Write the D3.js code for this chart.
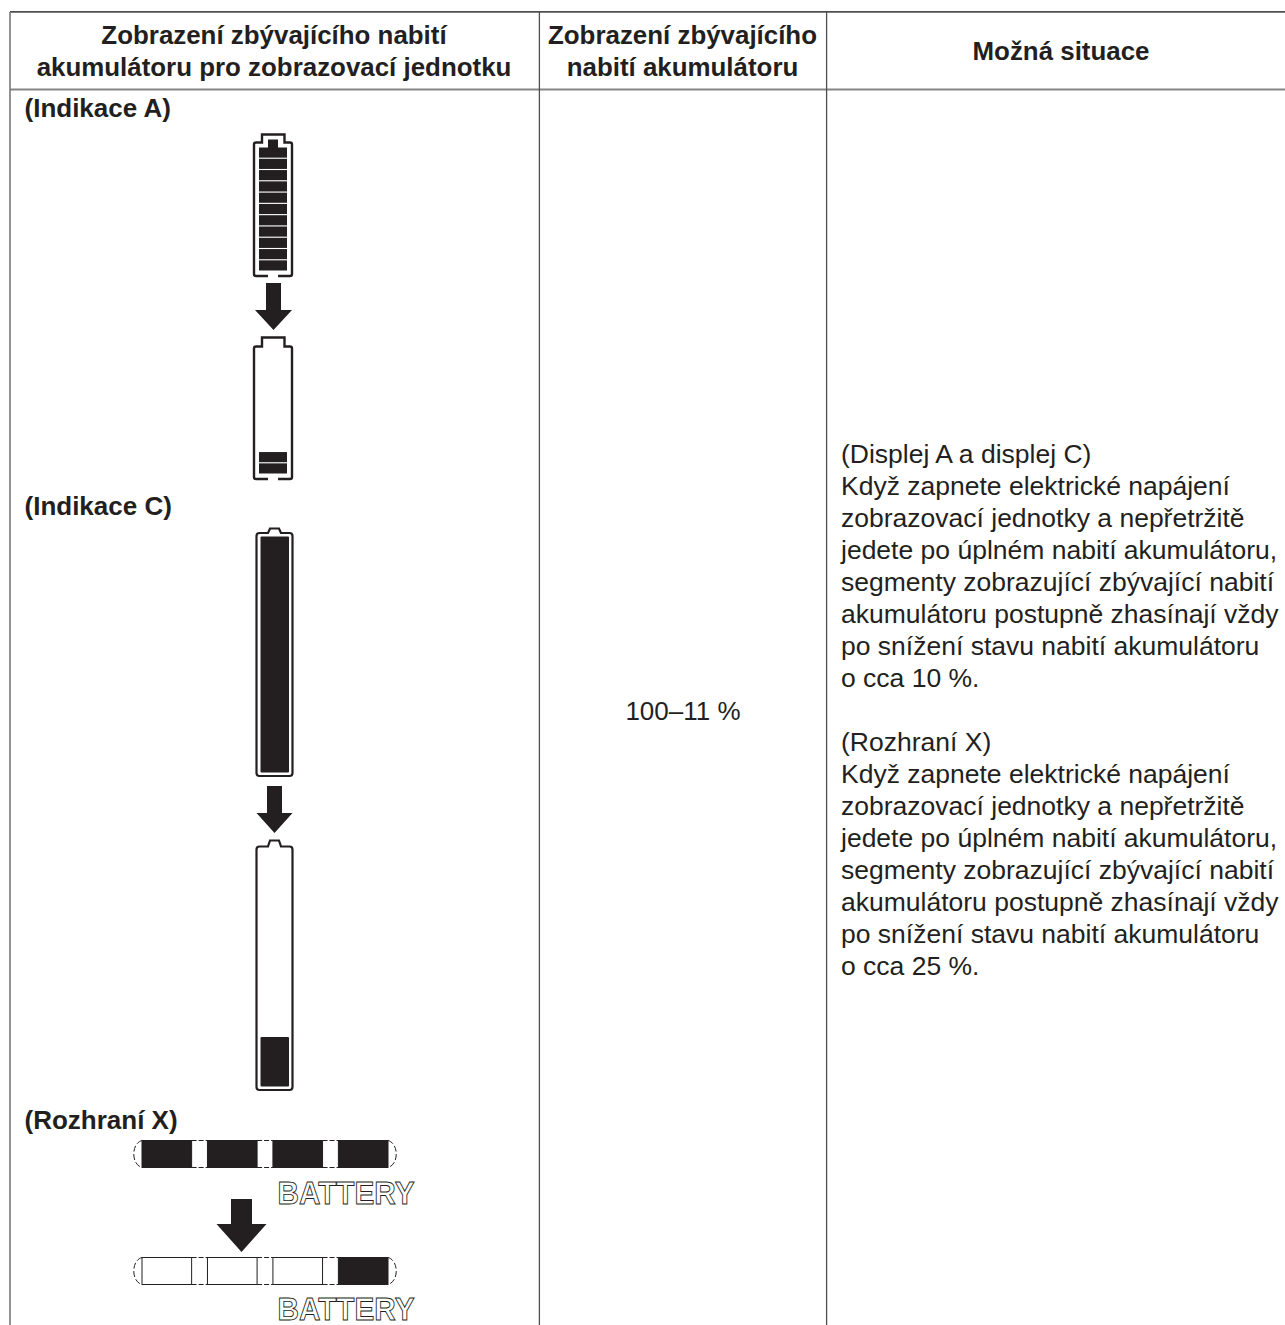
<!DOCTYPE html>
<html><head><meta charset="utf-8">
<script src="https://cdn.jsdelivr.net/npm/d3@7"></script>
<style>html,body{margin:0;padding:0;background:#fff}svg{display:block}text{font-family:"Liberation Sans",Arial,sans-serif;fill:#231f20}</style>
</head><body><div id="c"></div>
<script>
const headerCol1 = ["Zobrazení zbývajícího nabití", "akumulátoru pro zobrazovací jednotku"];
const headerCol2 = ["Zobrazení zbývajícího", "nabití akumulátoru"];
const headerCol3 = ["Možná situace"];
const sectionLabels = ["(Indikace A)", "(Indikace C)", "(Rozhraní X)"];
const chargeRange = "100–11 %";
const situationLines = [
 "(Displej A a displej C)",
 "Když zapnete elektrické napájení",
 "zobrazovací jednotky a nepřetržitě",
 "jedete po úplném nabití akumulátoru,",
 "segmenty zobrazující zbývající nabití",
 "akumulátoru postupně zhasínají vždy",
 "po snížení stavu nabití akumulátoru",
 "o cca 10 %.",
 "",
 "(Rozhraní X)",
 "Když zapnete elektrické napájení",
 "zobrazovací jednotky a nepřetržitě",
 "jedete po úplném nabití akumulátoru,",
 "segmenty zobrazující zbývající nabití",
 "akumulátoru postupně zhasínají vždy",
 "po snížení stavu nabití akumulátoru",
 "o cca 25 %."
];
const segmentsA = d3.range(11);
const litFull = [1,1,1,1,1,1,1,1,1,1,1];
const litLow  = [0,0,0,0,0,0,0,0,0,1,1];
const segmentsX = [0,1,2,3];
const litXFull = [1,1,1,1];
const litXLow  = [0,0,0,1];
const ink = "#231f20";

const svg = d3.select("#c").append("svg").attr("width",1285).attr("height",1325);

// Table rules
const rules = [
 {x1:10,y1:11.8,x2:1285,y2:11.8,c:"#4f4f4f",w:1.8},
 {x1:10,y1:89.5,x2:1285,y2:89.5,c:"#858585",w:2},
 {x1:10,y1:12,x2:10,y2:1325,c:"#777",w:1.6},
 {x1:539.4,y1:12,x2:539.4,y2:1325,c:"#4f4f4f",w:1.3},
 {x1:826.6,y1:12,x2:826.6,y2:1325,c:"#4f4f4f",w:1.3}
];
svg.append("g").selectAll("line").data(rules).join("line")
  .attr("x1",d=>d.x1).attr("y1",d=>d.y1).attr("x2",d=>d.x2).attr("y2",d=>d.y2)
  .attr("stroke",d=>d.c).attr("stroke-width",d=>d.w);

function lines(arr,x,y0,dy,size,weight,anchor){
  svg.append("g").selectAll("text").data(arr).join("text")
    .attr("x",x).attr("y",(d,i)=>y0+i*dy).attr("font-size",size)
    .attr("font-weight",weight).attr("text-anchor",anchor).text(d=>d);
}
lines(headerCol1,274,44,31.5,25.9,"bold","middle");
lines(headerCol2,682.5,44,31.5,25.9,"bold","middle");
lines(headerCol3,1061,60,32,25.9,"bold","middle");
svg.selectAll("text.s").data(sectionLabels).join("text").attr("class","s")
  .attr("x",24.5).attr("y",(d,i)=>[117,515,1129][i]).attr("font-size",26).attr("font-weight","bold").text(d=>d);
svg.append("text").attr("x",683).attr("y",720).attr("font-size",26).attr("text-anchor","middle").text(chargeRange);
lines(situationLines,841,463,32,26.5,"normal","start");

function arrow(cx,top,headTop,tip,shaftW,headW){
  const p=d3.path();
  p.moveTo(cx-shaftW/2,top);p.lineTo(cx+shaftW/2,top);p.lineTo(cx+shaftW/2,headTop);
  p.lineTo(cx+headW/2,headTop);p.lineTo(cx,tip);p.lineTo(cx-headW/2,headTop);p.lineTo(cx-shaftW/2,headTop);p.closePath();
  svg.append("path").attr("d",p.toString()).attr("fill",ink);
}

function batteryA(top,bodyTop,bottom,lit,full){
  const L=254,R=292,cL=262,cR=284.5;
  const p=d3.path();
  p.moveTo(268,bottom);p.lineTo(L+2,bottom);p.quadraticCurveTo(L,bottom,L,bottom-2);p.lineTo(L,bodyTop+2);
  p.quadraticCurveTo(L,bodyTop,L+2,bodyTop);p.lineTo(cL,bodyTop);p.lineTo(cL,top);p.lineTo(cR,top);p.lineTo(cR,bodyTop);
  p.lineTo(R-2,bodyTop);p.quadraticCurveTo(R,bodyTop,R,bodyTop+2);p.lineTo(R,bottom-2);p.quadraticCurveTo(R,bottom,R-2,bottom);p.lineTo(278,bottom);
  svg.append("path").attr("d",p.toString()).attr("fill","none").attr("stroke",ink).attr("stroke-width",2.4);
  const y=d3.scaleBand().domain(segmentsA).range([bottom-128.5,bottom-5.5]).paddingInner(0.1).paddingOuter(0);
  svg.append("g").selectAll("rect").data(segmentsA.filter(i=>lit[i])).join("rect")
    .attr("x",259).attr("width",28).attr("y",d=>y(d)).attr("height",y.bandwidth()).attr("fill",ink);
  if(full) svg.append("rect").attr("x",268).attr("width",10).attr("y",top+5).attr("height",10).attr("fill",ink);
}
batteryA(134.5,142.5,276,litFull,true);
arrow(273.5,283,310,330,15,37);
batteryA(337.5,346.5,479,litLow,false);

function batteryC(top,bodyTop,bottom,fillTop){
  const L=256.5,R=292.5,cL=268,cR=281;
  const p=d3.path();
  p.moveTo(L+3,bottom);p.quadraticCurveTo(L,bottom,L,bottom-3);p.lineTo(L,bodyTop+3);p.quadraticCurveTo(L,bodyTop,L+3,bodyTop);
  p.lineTo(cL,bodyTop);p.lineTo(cL+2,top);p.lineTo(cR-2,top);p.lineTo(cR,bodyTop);p.lineTo(R-3,bodyTop);
  p.quadraticCurveTo(R,bodyTop,R,bodyTop+3);p.lineTo(R,bottom-3);p.quadraticCurveTo(R,bottom,R-3,bottom);p.closePath();
  svg.append("path").attr("d",p.toString()).attr("fill","none").attr("stroke",ink).attr("stroke-width",2.2);
  svg.append("rect").attr("x",260.5).attr("width",28.5).attr("y",fillTop).attr("height",bottom-3.5-fillTop).attr("fill",ink).attr("rx",1);
}
batteryC(528.5,533,776,536.5);
arrow(274.5,786,813,833,15,36);
batteryC(840.5,846.5,1090,1037);

const xX=d3.scaleBand().domain(segmentsX).range([142,388]).paddingInner(0.242).paddingOuter(0);
function barX(top,h,lit){
  const bot=top+h;
  const g=svg.append("g");
  segmentsX.slice(0,-1).forEach(i=>{
    const a=xX(i)+xX.bandwidth(),b=xX(i+1);
    [top,bot].forEach(y=>g.append("line").attr("x1",a).attr("x2",b).attr("y1",y).attr("y2",y)
      .attr("stroke",ink).attr("stroke-width",1).attr("stroke-dasharray","5 2"));
  });
  g.selectAll("rect").data(segmentsX).join("rect").attr("x",d=>xX(d)).attr("y",top)
    .attr("width",xX.bandwidth()).attr("height",h)
    .attr("fill",d=>lit[d]?ink:"#fff").attr("stroke",ink).attr("stroke-width",1);
  const l=xX(0),r=xX(3)+xX.bandwidth();
  g.append("path").attr("d",`M${l},${top}C${l-11},${top+3} ${l-11},${bot-3} ${l},${bot}`)
    .attr("fill","none").attr("stroke",ink).attr("stroke-width",1).attr("stroke-dasharray","6 2.5");
  g.append("path").attr("d",`M${r},${top}C${r+11},${top+3} ${r+11},${bot-3} ${r},${bot}`)
    .attr("fill","none").attr("stroke",ink).attr("stroke-width",1).attr("stroke-dasharray","6 2.5");
}
barX(1140.5,27,litXFull);
arrow(241.5,1199,1224,1252,21,50);
barX(1257.5,27,litXLow);

[1204,1320].forEach(y=>{
  svg.append("text").attr("x",277.5).attr("y",y).attr("font-size",32).attr("font-weight","bold").attr("textLength",137)
    .attr("lengthAdjust","spacingAndGlyphs")
    .style("fill","#fff").attr("stroke",ink).attr("stroke-width",0.9).text("BATTERY");
});
</script></body></html>
